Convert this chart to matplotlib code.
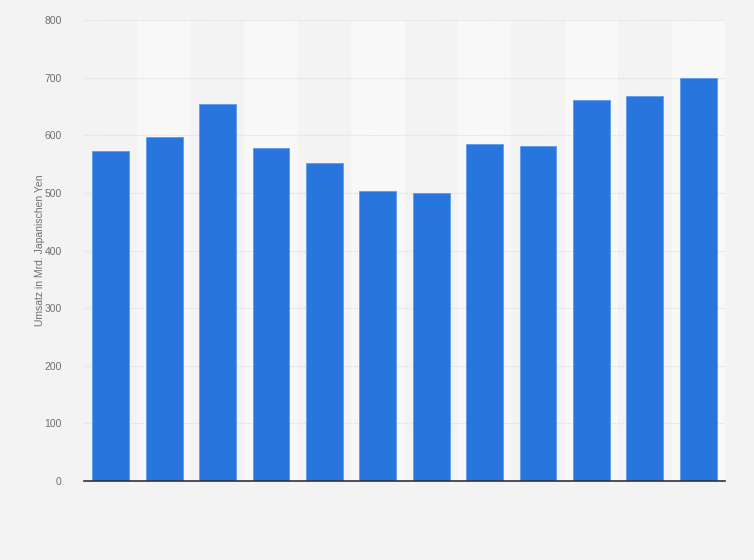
import numpy as np
import matplotlib.pyplot as plt

plt.rcParams['font.family'] = ['Liberation Sans', 'DejaVu Sans']

# Umsatz in Mrd. Japanischen Yen (no category labels in the source)
years = list(range(12))
revenue = [573, 597, 654, 578, 552, 503, 500, 585, 581, 661, 668, 700]
yticks = [0, 100, 200, 300, 400, 500, 600, 700, 800]

bg = '#f3f3f3'
band = '#f8f8f8'
bar_color = '#2876dd'

fig = plt.figure(figsize=(7.54, 5.6), dpi=100)
fig.patch.set_facecolor(bg)
ax = fig.add_axes([84/754, 1-481/560, 641/754, (481-20.3)/560])
ax.set_facecolor(bg)

# alternating background bands
for i in years:
    if i % 2 == 1:
        ax.axvspan(i - 0.5, i + 0.5, color=band, zorder=0, lw=0)

ax.bar(years, revenue, width=0.69, color=bar_color, edgecolor='#5c9be9',
       linewidth=0.6, zorder=3)

ax.set_xlim(-0.5, len(years) - 0.5)
ax.set_ylim(0, 800)
ax.set_yticks(yticks)
ax.set_yticklabels([str(v) for v in yticks], fontsize=7.5, color='#707070')
ax.tick_params(axis='y', length=0, pad=16)
ax.set_xticks([])

ax.yaxis.grid(True, linestyle=(0, (1, 1.5)), color='#d6d6d6', linewidth=0.8, zorder=1)
ax.set_axisbelow(True)

for s in ['top', 'right', 'left']:
    ax.spines[s].set_visible(False)
ax.spines['bottom'].set_color('#333333')
ax.spines['bottom'].set_linewidth(1.2)
ax.spines['bottom'].set_zorder(4)

fig.text(40/754, 1-250/560, 'Umsatz in Mrd. Japanischen Yen', rotation=90,
         ha='center', va='center', fontsize=7.5, color='#707070')

fig.savefig('out.png', dpi=100, facecolor=bg)
